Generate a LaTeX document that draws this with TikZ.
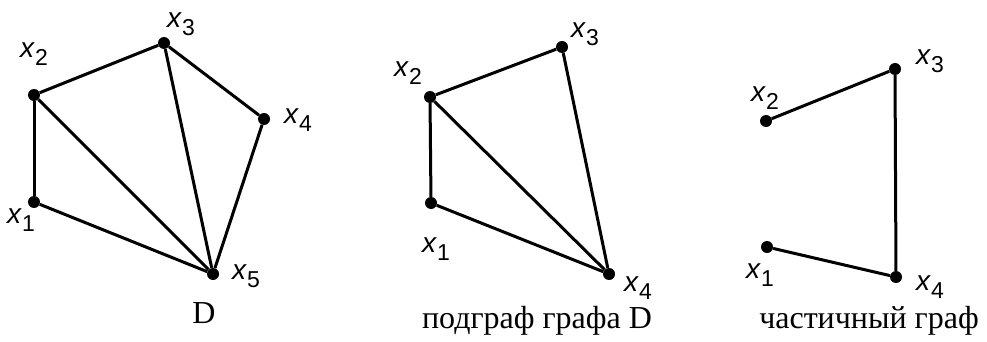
\documentclass[tikz,border=0pt]{standalone}
\usepackage{fontspec}
\setmainfont{Liberation Serif}
\newfontfamily\lblfont{Liberation Sans}
\tikzset{
  vtx/.style={circle,fill=black,inner sep=0pt,minimum size=12pt},
  edge/.style={line width=3pt},
  lbl/.style={anchor=base west,inner sep=0pt,font=\lblfont\fontsize{28}{28}\selectfont},
  capt/.style={anchor=base,inner sep=0pt,font=\fontsize{32}{32}\selectfont}}
\newcommand{\xsub}[1]{\textit{x}\raisebox{-8pt}{\fontsize{23}{23}\selectfont #1}}
\begin{document}
\begin{tikzpicture}[x=1pt,y=-1pt]
\useasboundingbox (0,0) rectangle (987,342);
% graph D
\node[vtx] (a1) at (34,202) {}; \node[vtx] (a2) at (34,95) {};
\node[vtx] (a3) at (164,43) {}; \node[vtx] (a4) at (264,119) {};
\node[vtx] (a5) at (213,274) {};
\node[lbl] (la1) at (7,223) {\xsub{1}}; \node[lbl] (la2) at (20,58) {\xsub{2}};
\node[lbl] (la3) at (167,28) {\xsub{3}}; \node[lbl] (la4) at (284,124) {\xsub{4}};
\node[lbl] (la5) at (232,279) {\xsub{5}};
\draw[edge] (a1)--(a2); \draw[edge] (a2)--(a3); \draw[edge] (a3)--(a4); \draw[edge] (a4)--(a5);
\draw[edge] (a1)--(a5); \draw[edge] (a2)--(a5); \draw[edge] (a3)--(a5);
\node[capt] (ca) at (204,323) {D};
% subgraph
\node[vtx] (b1) at (431,203) {}; \node[vtx] (b2) at (430,97) {};
\node[vtx] (b3) at (562,47) {}; \node[vtx] (b4) at (609,274) {};
\node[lbl] (lb1) at (422,252) {\xsub{1}}; \node[lbl] (lb2) at (394,77) {\xsub{2}};
\node[lbl] (lb3) at (571,38) {\xsub{3}}; \node[lbl] (lb4) at (624,291) {\xsub{4}};
\draw[edge] (b1)--(b2); \draw[edge] (b2)--(b3); \draw[edge] (b3)--(b4);
\draw[edge] (b1)--(b4); \draw[edge] (b2)--(b4);
\node[capt] (cb) at (537,328) {подграф графа D};
% partial graph
\node[vtx] (c1) at (767,247) {}; \node[vtx] (c2) at (766,121) {};
\node[vtx] (c3) at (895,69) {}; \node[vtx] (c4) at (896,277) {};
\node[lbl] (lc1) at (746,278) {\xsub{1}}; \node[lbl] (lc2) at (751,102) {\xsub{2}};
\node[lbl] (lc3) at (916,65) {\xsub{3}}; \node[lbl] (lc4) at (916,290) {\xsub{4}};
\draw[edge] (c2)--(c3); \draw[edge] (c3)--(c4); \draw[edge] (c1)--(c4);
\node[capt] (cc) at (869,328) {частичный граф};
\end{tikzpicture}
\end{document}
